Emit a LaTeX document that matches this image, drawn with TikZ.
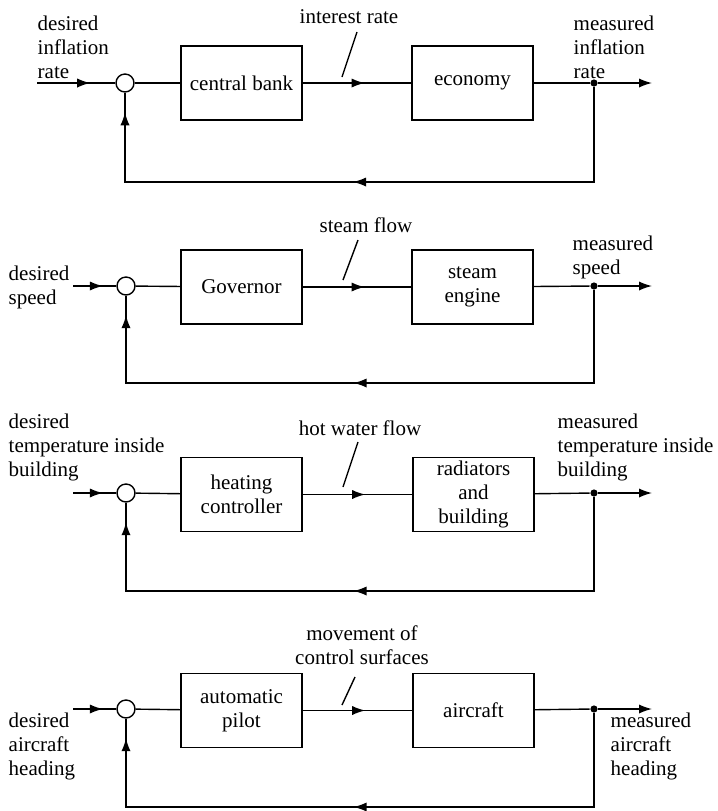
\documentclass[tikz,border=0pt]{standalone}
\usepackage{fontspec}
\setmainfont{Liberation Serif}
\usetikzlibrary{arrows.meta, decorations.markings}

\tikzset{
  block/.style={draw, minimum width=60.5pt, minimum height=37pt, inner sep=1pt, align=center},
  sumpt/.style={draw, circle, minimum size=9pt, inner sep=0pt},
  tap/.style={fill, circle, minimum size=3.6pt, inner sep=0pt},
  txt/.style={inner sep=0pt, align=left},
  tip/.style={-{Latex[length=6.5pt,width=4.6pt]}},
  arrowat/.style={postaction={decorate}, decoration={markings,
      mark=at position #1 with {\arrow{Latex[length=6.5pt,width=4.6pt]}}}},
  fbarrows/.style={postaction={decorate}, decoration={markings,
      mark=at position 0.514 with {\arrow{Latex[length=6.5pt,width=4.6pt]}},
      mark=at position 0.97 with {\arrow{Latex[length=6.5pt,width=4.6pt]}}}},
}

\begin{document}
\begin{tikzpicture}[x=0.5pt, y=-0.5pt, line width=0.7pt, font=\fontsize{10.5}{12}\selectfont]
  \useasboundingbox (0,0) rectangle (718,811);

  % inflation
  \node[txt, anchor=south west] (dsr1) at (37,79) {desired\\inflation\\rate};
  \coordinate (in1) at (37,83);
  \node[sumpt] (sum1) at (125,83) {};
  \node[block] (cb) at (241.5,83) {central bank};
  \node[block] (eco) at (472.5,83) {economy};
  \node[tap] (tap1) at (594,83) {};
  \coordinate (out1) at (652,83);
  \node[txt, anchor=south west] (msr1) at (573,79) {measured\\inflation\\rate};
  \node (ir) at (349,17) {interest rate};
  \coordinate (sl1a) at (342,77);
  \coordinate (sl1b) at (357,32);
  \draw[arrowat=0.68] (in1) -- (sum1);
  \draw (sum1) -- (cb);
  \draw[arrowat=0.57] (cb) -- (eco);
  \draw (eco) -- (tap1);
  \draw[tip] (tap1) -- (out1);
  \draw[fbarrows] (tap1) -- ++(0,99) -| (sum1);
  \draw (sl1a) -- (sl1b);

  % speed
  \node[txt, anchor=west] (dsr2) at (8,287) {desired\\speed};
  \coordinate (in2) at (73,286);
  \node[sumpt] (sum2) at (126,286) {};
  \node[block] (gov) at (241.5,287) {Governor};
  \node[block] (eng) at (472.5,287) {steam\\engine};
  \node[tap] (tap2) at (594,286) {};
  \coordinate (out2) at (652,286);
  \node[txt, anchor=south west] (msr2) at (572,280) {measured\\speed};
  \node (sf) at (366,225) {steam flow};
  \coordinate (sl2a) at (343,280);
  \coordinate (sl2b) at (358,240);
  \draw[arrowat=0.69] (in2) -- (sum2);
  \draw (sum2) -- (gov);
  \draw[arrowat=0.57] (gov) -- (eng);
  \draw (eng) -- (tap2);
  \draw[tip] (tap2) -- (out2);
  \draw[fbarrows] (tap2) -- ++(0,97) -| (sum2);
  \draw (sl2a) -- (sl2b);

  % temperature
  \node[txt, anchor=south west] (dsr3) at (8,482) {desired\\temperature inside\\building};
  \coordinate (in3) at (73,493);
  \node[sumpt] (sum3) at (126,493) {};
  \node[block] (hc) at (241.5,494.5) {heating\\controller};
  \node[block] (rad) at (473.5,494.5) {radiators\\and\\building};
  \node[tap] (tap3) at (594,493) {};
  \coordinate (out3) at (652,493);
  \node[txt, anchor=south west] (msr3) at (557,482) {measured\\temperature inside\\building};
  \node (hw) at (360,428) {hot water flow};
  \coordinate (sl3a) at (343,487);
  \coordinate (sl3b) at (358,442);
  \draw[arrowat=0.69] (in3) -- (sum3);
  \draw (sum3) -- (hc);
  \draw[arrowat=0.57] (hc) -- (rad);
  \draw (rad) -- (tap3);
  \draw[tip] (tap3) -- (out3);
  \draw[fbarrows] (tap3) -- ++(0,98) -| (sum3);
  \draw (sl3a) -- (sl3b);

  % aircraft heading
  \node[txt, anchor=north west] (dsr4) at (8,712) {desired\\aircraft\\heading};
  \coordinate (in4) at (73,709);
  \node[sumpt] (sum4) at (126,709) {};
  \node[block] (ap) at (241.5,710.5) {automatic\\pilot};
  \node[block] (ac) at (473.5,710.5) {aircraft};
  \node[tap] (tap4) at (594,709) {};
  \coordinate (out4) at (652,709);
  \node[txt, anchor=north west] (msr4) at (610,712) {measured\\aircraft\\heading};
  \node[align=center] (mcs) at (362,645) {movement of\\control surfaces};
  \coordinate (sl4a) at (342,705);
  \coordinate (sl4b) at (355,677);
  \draw[arrowat=0.69] (in4) -- (sum4);
  \draw (sum4) -- (ap);
  \draw[arrowat=0.57] (ap) -- (ac);
  \draw (ac) -- (tap4);
  \draw[tip] (tap4) -- (out4);
  \draw[fbarrows] (tap4) -- ++(0,98) -| (sum4);
  \draw (sl4a) -- (sl4b);
\end{tikzpicture}
\end{document}
